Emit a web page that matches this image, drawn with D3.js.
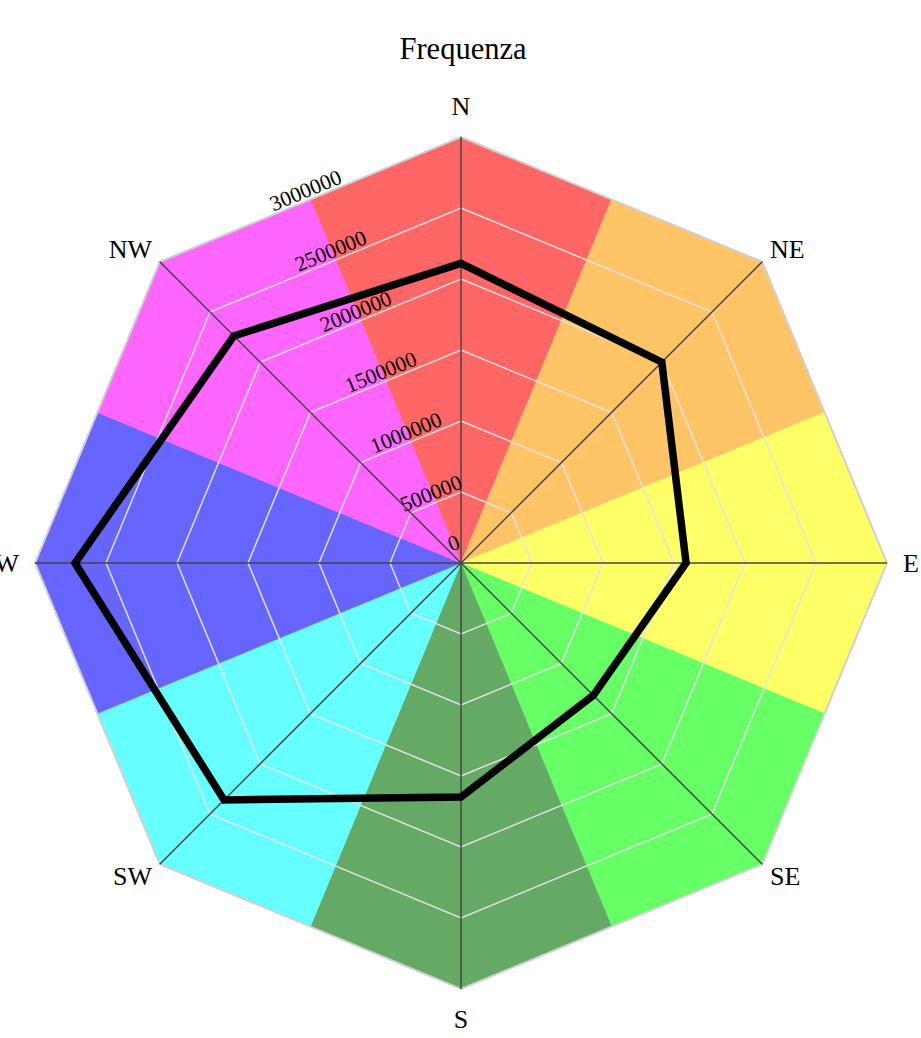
<!DOCTYPE html>
<html>
<head>
<meta charset="utf-8">
<script src="https://cdn.jsdelivr.net/npm/d3@7"></script>
<style>
  html, body { margin: 0; padding: 0; background: #fff; }
  svg { display: block; }
  text { font-family: "Liberation Serif", "Times New Roman", serif; fill: #000; }
</style>
</head>
<body>
<script>
// ---- data ----
const directions = ["N", "NE", "E", "SE", "S", "SW", "W", "NW"];
const frequency = [2110000, 2000000, 1585000, 1318000, 1648000, 2360000, 2718000, 2262000];
const sectorColors = ["#ff6666", "#ffc466", "#ffff66", "#66ff66", "#64a964", "#66ffff", "#6666ff", "#ff66ff"];
const radialTicks = [0, 500000, 1000000, 1500000, 2000000, 2500000, 3000000];
const radialMax = 3000000;
const title = "Frequenza";

// ---- layout ----
const W = 921, H = 1038;
const cx = 461, cy = 563, R = 426;
const deg = Math.PI / 180;
const half = 22.5 * deg;

const svg = d3.select("body").append("svg").attr("width", W).attr("height", H);

const r = d3.scaleLinear().domain([0, radialMax]).range([0, R]);
const ang = d3.scalePoint().domain(directions).range([0, 360 * (directions.length - 1) / directions.length]);

const P = (aDeg, dist) => [cx + dist * Math.sin(aDeg * deg), cy - dist * Math.cos(aDeg * deg)];
const polygon = (dist) => directions.map(d => P(ang(d), dist));
const line = d3.line();

// wedges
const g = svg.append("g");
g.selectAll("path.wedge")
  .data(directions)
  .join("path")
  .attr("class", "wedge")
  .attr("d", (d) => {
    const a = ang(d);
    const outer = r(radialMax);
    return line([[cx, cy], P(a - 22.5, outer * Math.cos(half)), P(a, outer), P(a + 22.5, outer * Math.cos(half))]) + "Z";
  })
  .attr("fill", (d, i) => sectorColors[i])
  .attr("stroke", (d, i) => sectorColors[i])
  .attr("stroke-width", 0.5);

// grid polygons
g.selectAll("path.grid")
  .data(radialTicks.filter(t => t > 0 && t < radialMax))
  .join("path")
  .attr("class", "grid")
  .attr("d", t => line(polygon(r(t))) + "Z")
  .attr("fill", "none")
  .attr("stroke", "#e2e2e2")
  .attr("stroke-width", 1.5);

// outer frame
g.append("path")
  .attr("d", line(polygon(r(radialMax))) + "Z")
  .attr("fill", "none")
  .attr("stroke", "#d0d0d0")
  .attr("stroke-width", 2);

// spokes
g.selectAll("line.spoke")
  .data(directions)
  .join("line")
  .attr("class", "spoke")
  .attr("x1", cx).attr("y1", cy)
  .attr("x2", d => P(ang(d), r(radialMax))[0])
  .attr("y2", d => P(ang(d), r(radialMax))[1])
  .attr("stroke", "#444")
  .attr("stroke-width", 1.5);

// data polygon
g.append("path")
  .attr("d", line(directions.map((d, i) => P(ang(d), r(frequency[i])))) + "Z")
  .attr("fill", "none")
  .attr("stroke", "#000")
  .attr("stroke-width", 7.5)
  .attr("stroke-linejoin", "miter");

// radial tick labels (along edge-midpoint direction, rotated)
g.selectAll("text.tick")
  .data(radialTicks)
  .join("text")
  .attr("class", "tick")
  .attr("transform", t => {
    const p = P(-22.5, r(t) * Math.cos(half));
    return `translate(${p[0]},${p[1]}) rotate(-22.5)`;
  })
  .attr("x", t => t === 0 ? 1 : -1)
  .attr("y", t => t === 0 ? -14 : -3)
  .attr("text-anchor", "middle")
  .attr("font-size", 21.5)
  .text(t => String(t));

// direction labels
g.selectAll("text.dir")
  .data(directions)
  .join("text")
  .attr("class", "dir")
  .each(function (d) {
    const a = ang(d) * deg;
    const s = Math.sin(a), c = Math.cos(a);
    const c2 = Math.pow(Math.cos(2 * a), 2);
    const gx = 11 + 5 * c2, gy = 9 + 13 * c2;
    const v = P(ang(d), r(radialMax));
    const fs = 26, cap = 0.662 * fs;
    const x = v[0] + s * gx;
    const y = v[1] - c * gy + cap * (1 - c) / 2;
    d3.select(this)
      .attr("x", x).attr("y", y)
      .attr("font-size", fs)
      .attr("text-anchor", s > 0.01 ? "start" : (s < -0.01 ? "end" : "middle"))
      .text(d);
  });

// title
svg.append("text")
  .attr("x", 463).attr("y", 59)
  .attr("text-anchor", "middle")
  .attr("font-size", 30.5)
  .text(title);
</script>
</body>
</html>
